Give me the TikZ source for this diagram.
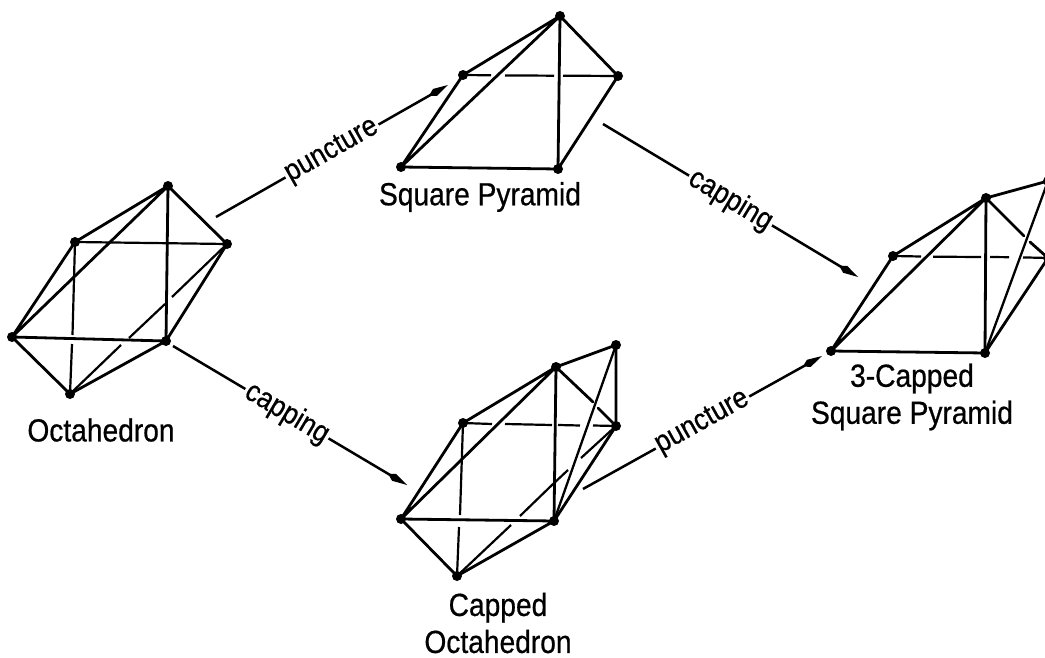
\documentclass[tikz,border=0pt]{standalone}
\usepackage{fontspec}
\setmainfont{Liberation Sans}[FakeStretch=0.88,FakeBold=0.6]
\usetikzlibrary{arrows.meta}
\tikzset{
  x=1pt,y=-1pt,
  vtx/.style={circle,fill=black,draw=none,minimum size=10pt,inner sep=0pt},
  edge/.style={draw=black,line width=2.8pt,line cap=round},
  thinedge/.style={draw=black,line width=2.3pt,line cap=round},
  hidden/.style={draw=black,line width=2.2pt,line cap=butt},
  conn/.style={draw=black,line width=2.5pt,-{Kite[length=22pt,width=8pt,inset=7pt]}},
  arrowtext/.style={sloped,fill=white,inner sep=2pt,font=\fontsize{30}{30}\selectfont},
  title/.style={align=center,font=\fontsize{32}{37}\selectfont,inner sep=0pt}
}
\begin{document}
\begin{tikzpicture}
\useasboundingbox (0,0) rectangle (1045,658);
\clip (0,0) rectangle (1045,658);
% Octahedron
\node[vtx] (ot) at (168,186) {};
\node[vtx] (ob) at (75,242) {};
\node[vtx] (or) at (227,244) {};
\node[vtx] (ol) at (12,337) {};
\node[vtx] (of) at (166,341) {};
\node[vtx] (ou) at (70,394) {};
\draw[edge] (ot.center)--(ob.center) (ot.center)--(ol.center) (ot.center)--(or.center) (ot.center)--(of.center)
  (ob.center)--(ol.center) (ol.center)--(of.center) (ol.center)--(ou.center) (of.center)--(ou.center) (of.center)--(or.center);
\draw[hidden] (ob.center)--(or.center);
\coordinate (oa1) at (172,297); \coordinate (oa2) at (165,304); \coordinate (oa3) at (129,338); \coordinate (oa4) at (121,345);
\coordinate (ov1) at (72.5,335); \coordinate (ov2) at (72,344);
\draw[hidden] (or.center)--(oa1) (oa2)--(oa3) (oa4)--(ou.center) (ob.center)--(ov1) (ov2)--(ou.center);
% Square pyramid
\node[vtx] (pt) at (560,16) {};
\node[vtx] (pb) at (463,75) {};
\node[vtx] (pr) at (618,76) {};
\node[vtx] (pl) at (401,167) {};
\node[vtx] (pf) at (558,169) {};
\draw[edge] (pt.center)--(pb.center) (pt.center)--(pl.center) (pt.center)--(pr.center) (pt.center)--(pf.center)
  (pb.center)--(pl.center) (pl.center)--(pf.center) (pf.center)--(pr.center);
\coordinate (ph1) at (491,75.3); \coordinate (ph2) at (505,75.4); \coordinate (ph3) at (554,75.7); \coordinate (ph4) at (563,75.7);
\draw[hidden] (pb.center)--(ph1) (ph2)--(ph3) (ph4)--(pr.center);
% Capped octahedron
\node[vtx] (cc) at (616,345) {};
\node[vtx] (ct) at (556,367) {};
\node[vtx] (cb) at (463,423) {};
\node[vtx] (cr) at (616,426) {};
\node[vtx] (cl) at (401,519) {};
\node[vtx] (cf) at (554,521) {};
\node[vtx] (cu) at (457,576) {};
\draw[edge] (cc.center)--(ct.center) (cc.center)--(cr.center) (ct.center)--(cb.center) (ct.center)--(cl.center) (ct.center)--(cf.center)
  (cb.center)--(cl.center) (cl.center)--(cf.center) (cl.center)--(cu.center) (cf.center)--(cu.center) (cf.center)--(cr.center);
\draw[thinedge] (cc.center)--(cf.center);
\coordinate (ctr1) at (593,402); \coordinate (ctr2) at (598,408);
\draw[edge] (ct.center)--(ctr1) (ctr2)--(cr.center);
\coordinate (ch1) at (492,424); \coordinate (ch2) at (505,424); \coordinate (ch3) at (552,425); \coordinate (ch4) at (558,425); \coordinate (ch5) at (580,425.5); \coordinate (ch6) at (593,425.5);
\draw[hidden] (cb.center)--(ch1) (ch2)--(ch3) (ch4)--(ch5) (ch6)--(cr.center);
\coordinate (ca1) at (581,458); \coordinate (ca2) at (568,470); \coordinate (ca3) at (552,485); \coordinate (ca4) at (520,516); \coordinate (ca5) at (511,525);
\draw[hidden] (cr.center)--(ca1) (ca2)--(ca3) (ca3)--(ca4) (ca5)--(cu.center);
\coordinate (cv1) at (460,515); \coordinate (cv2) at (459,527);
\draw[hidden] (cb.center)--(cv1) (cv2)--(cu.center);
% 3-capped square pyramid
\node[vtx] (st) at (986,198) {};
\node[vtx] (sb) at (893,256) {};
\node[vtx] (sl) at (831,351) {};
\node[vtx] (sf) at (985,353) {};
\node[vtx] (sc) at (1048,181) {};
\node[vtx] (sr) at (1048,258) {};
\draw[edge] (st.center)--(sb.center) (st.center)--(sl.center) (st.center)--(sf.center) (st.center)--(sc.center)
  (sb.center)--(sl.center) (sl.center)--(sf.center) (sf.center)--(sr.center) (sc.center)--(sr.center);
\draw[thinedge] (sc.center)--(sf.center);
\coordinate (str1) at (1024,236); \coordinate (str2) at (1030,242);
\draw[edge] (st.center)--(str1) (str2)--(sr.center);
\coordinate (sh1) at (921,256.5); \coordinate (sh2) at (933,256.7); \coordinate (sh3) at (981,257); \coordinate (sh4) at (990,257); \coordinate (sh5) at (1009,257.2); \coordinate (sh6) at (1023,257.4);
\draw[hidden] (sb.center)--(sh1) (sh2)--(sh3) (sh4)--(sh5) (sh6)--(sr.center);
% Connectors
\coordinate (a1s) at (216,217); \coordinate (a1e) at (448,85);
\coordinate (a2s) at (603,124); \coordinate (a2e) at (858,277);
\coordinate (a3s) at (173,346); \coordinate (a3e) at (407,485);
\coordinate (a4s) at (583,489); \coordinate (a4e) at (822,356);
\draw[conn] (a1s) -- node[arrowtext] (l1) {puncture} (a1e);
\draw[conn] (a2s) -- node[arrowtext] (l2) {capping} (a2e);
\draw[conn] (a3s) -- node[pos=.487,arrowtext] (l3) {capping} (a3e);
\draw[conn] (a4s) -- node[arrowtext] (l4) {puncture} (a4e);
% Titles
\node[title] (t1) at (101,430) {Octahedron};
\node[title] (t2) at (480,197) {Square Pyramid};
\node[title] (t3) at (498,623) {Capped\\Octahedron};
\node[title] (t4) at (912,397) {3-Capped\\Square Pyramid};
\end{tikzpicture}
\end{document}
